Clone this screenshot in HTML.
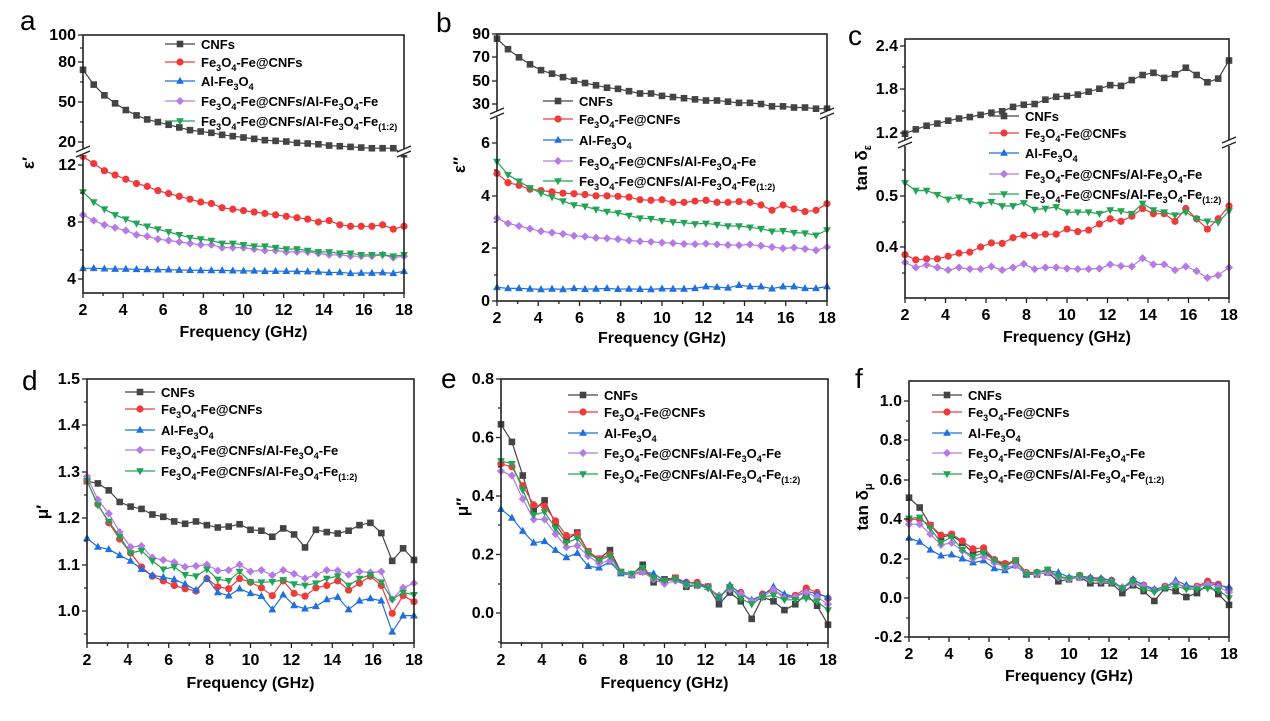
<!DOCTYPE html>
<html><head><meta charset="utf-8"><style>
html,body{margin:0;padding:0;background:#fff;}
svg{display:block;font-family:"Liberation Sans",Arial,sans-serif;}
</style></head><body>
<svg id="s" width="1270" height="721" viewBox="0 0 1270 721" xmlns="http://www.w3.org/2000/svg"></svg>
<script>
const S=document.getElementById('s');let out='';
const C={k:'#444',r:'#f03a3a',b:'#1e6fe0',p:'#b57ae6',g:'#22a455'};
const N=31;const X=i=>2+16*i/(N-1);
function mk(t,x,y,c){const s=3.3;
 if(t=='k')return `<rect x="${x-s}" y="${y-s}" width="${2*s}" height="${2*s}" fill="${c}"/>`;
 if(t=='r')return `<circle cx="${x}" cy="${y}" r="${s+0.3}" fill="${c}"/>`;
 if(t=='b')return `<polygon points="${x},${y-s-1} ${x-s-0.6},${y+s-0.5} ${x+s+0.6},${y+s-0.5}" fill="${c}"/>`;
 if(t=='p')return `<polygon points="${x},${y-s-0.8} ${x+s+0.8},${y} ${x},${y+s+0.8} ${x-s-0.8},${y}" fill="${c}"/>`;
 return `<polygon points="${x},${y+s+1} ${x-s-0.6},${y-s+0.5} ${x+s+0.6},${y-s+0.5}" fill="${c}"/>`;}
const LBL={k:'CNFs',r:'Fe<tspan font-size="9" dy="4">3</tspan><tspan dy="-4">O</tspan><tspan font-size="9" dy="4">4</tspan><tspan dy="-4">-Fe@CNFs</tspan>',
b:'Al-Fe<tspan font-size="9" dy="4">3</tspan><tspan dy="-4">O</tspan><tspan font-size="9" dy="4">4</tspan>',
p:'Fe<tspan font-size="9" dy="4">3</tspan><tspan dy="-4">O</tspan><tspan font-size="9" dy="4">4</tspan><tspan dy="-4">-Fe@CNFs/Al-Fe</tspan><tspan font-size="9" dy="4">3</tspan><tspan dy="-4">O</tspan><tspan font-size="9" dy="4">4</tspan><tspan dy="-4">-Fe</tspan>',
g:'Fe<tspan font-size="9" dy="4">3</tspan><tspan dy="-4">O</tspan><tspan font-size="9" dy="4">4</tspan><tspan dy="-4">-Fe@CNFs/Al-Fe</tspan><tspan font-size="9" dy="4">3</tspan><tspan dy="-4">O</tspan><tspan font-size="9" dy="4">4</tspan><tspan dy="-4">-Fe</tspan><tspan font-size="9" dy="4">(1:2)</tspan>'};
function panel(P){
 const {x0,x1,y0,y1}=P;const fx=f=>x0+(f-2)*(x1-x0)/16;
 let s='';
 for(const key of ['k','r','b','p','g']){const d=P.d[key];if(!d)continue;const m=(P.up&&key=='k')?P.up:P.lo;
  const pts=d.map((v,i)=>[fx(X(i)),m(v)]);
  s+=`<polyline points="${pts.map(p=>p[0].toFixed(1)+','+p[1].toFixed(1)).join(' ')}" fill="none" stroke="${C[key]}" stroke-width="1.2"/>`;
  pts.forEach(p=>s+=mk(key,p[0],p[1],C[key]));}
 s+=`<rect x="${x0}" y="${y0}" width="${x1-x0}" height="${y1-y0}" fill="none" stroke="#222" stroke-width="1.6"/>`;
 for(let f=2;f<=18;f+=1){const x=fx(f);const maj=f%2==0;s+=`<line x1="${x}" y1="${y1}" x2="${x}" y2="${y1+(maj?5:3)}" stroke="#222" stroke-width="1.3"/>`;
  if(maj)s+=`<text x="${x}" y="${y1+22}" font-size="16" font-weight="bold" text-anchor="middle">${f}</text>`;}
 P.yt.forEach(([v,y])=>{s+=`<line x1="${x0-5}" y1="${y}" x2="${x0}" y2="${y}" stroke="#222" stroke-width="1.3"/><text x="${x0-7}" y="${y+5}" font-size="16" font-weight="bold" text-anchor="end">${v}</text>`;});
 (P.ym||[]).forEach(y=>s+=`<line x1="${x0-3}" y1="${y}" x2="${x0}" y2="${y}" stroke="#222" stroke-width="1.2"/>`);
 if(P.br){const b=P.br;[x0,x1].forEach(x=>{s+=`<rect x="${x-6}" y="${b-3}" width="12" height="6" fill="#fff"/><line x1="${x-7}" y1="${b}" x2="${x+7}" y2="${b-6}" stroke="#222" stroke-width="1.4"/><line x1="${x-7}" y1="${b+5}" x2="${x+7}" y2="${b-1}" stroke="#222" stroke-width="1.4"/>`;});}
 s+=`<text x="${(x0+x1)/2}" y="${P.ft}" font-size="16" font-weight="bold" text-anchor="middle">Frequency (GHz)</text>`;
 s+=`<text x="${P.L[1]}" y="${P.L[2]}" font-size="28">${P.L[0]}</text>`;
 s+=`<text transform="translate(${P.yl[0]},${P.yl[1]}) rotate(-90)" font-size="17" font-weight="bold" text-anchor="middle">${P.yl[2]}</text>`;
 const [lx,lrows]=P.leg;['k','r','b','p','g'].forEach((k,i)=>{const y=lrows[i];s+=`<line x1="${lx}" y1="${y}" x2="${lx+30}" y2="${y}" stroke="${C[k]}" stroke-width="1.3"/>`+mk(k,lx+15,y,C[k])+`<text x="${lx+36}" y="${y+5}" font-size="13" font-weight="bold">${LBL[k]}</text>`;});
 out+=s;}
panel({x0:83,x1:404,y0:35,y1:293,up:v=>Math.max(35+(100-v)*1.34,35),lo:v=>165+(12-v)*14.25,br:152,
 yt:[[100,35],[80,62],[50,102],[20,142],[12,165],[8,222],[4,279]],ym:[48,82,122,193,250],ft:337,L:['a',20,30],yl:[34,163,'ε′'],
 leg:[165,[44,62,81,101,121]],
 d:{k:[74,63,55,49,44,40,37,35,33,31,29,28,27,25.5,24.5,23.5,22.5,21.5,21,20.5,19.5,19,18.5,17.5,17,16.5,16,15.5,15.5,15.5,11],
 r:[12.6,12.1,11.6,11.3,11.0,10.7,10.5,10.2,10.0,9.8,9.6,9.4,9.3,9.0,8.9,8.8,8.7,8.6,8.5,8.4,8.3,8.2,8.0,8.1,7.8,7.7,7.7,7.7,7.8,7.5,7.7],
 b:[4.75,4.75,4.72,4.7,4.7,4.68,4.67,4.65,4.65,4.63,4.62,4.6,4.6,4.6,4.58,4.57,4.57,4.55,4.55,4.55,4.53,4.52,4.5,4.45,4.47,4.4,4.42,4.42,4.45,4.4,4.55],
 p:[8.5,8.1,7.8,7.6,7.4,7.1,7.0,6.8,6.7,6.6,6.5,6.4,6.4,6.2,6.2,6.2,6.1,6.0,6.0,5.9,5.9,5.9,5.8,5.7,5.7,5.6,5.6,5.6,5.7,5.5,5.6],
 g:[10.1,9.4,8.9,8.5,8.2,7.9,7.7,7.5,7.3,7.1,6.9,6.8,6.7,6.5,6.5,6.4,6.3,6.3,6.2,6.1,6.1,6.0,5.9,5.9,5.8,5.8,5.7,5.7,5.7,5.6,5.7]}});
panel({x0:497,x1:827,y0:34,y1:301,up:v=>34+(90-v)*1.167,lo:v=>301-v*26.3,br:114,
 yt:[[90,34],[70,57],[50,81],[30,104],[6,143],[4,196],[2,248],[0,301]],ym:[170,222,275],ft:343,L:['b',436,32],yl:[465,165,'ε″'],
 leg:[543,[101,119,140,161,181]],
 d:{k:[86,77,70,64,59,56,53,50,48,46,44,43,41,39,39,37,36,35,34,33,33,32,31,31,30,28,28,27,27,26,26],
 r:[4.85,4.5,4.4,4.25,4.2,4.15,4.1,4.08,4.05,4.0,4.0,3.98,3.95,3.85,3.83,3.85,3.75,3.75,3.8,3.83,3.75,3.75,3.78,3.75,3.65,3.45,3.65,3.5,3.4,3.45,3.7],
 b:[0.52,0.48,0.48,0.46,0.44,0.46,0.44,0.48,0.45,0.46,0.48,0.45,0.46,0.45,0.44,0.47,0.46,0.46,0.48,0.55,0.53,0.5,0.6,0.55,0.55,0.47,0.55,0.55,0.48,0.48,0.55],
 p:[3.15,2.95,2.85,2.75,2.65,2.6,2.55,2.48,2.45,2.4,2.38,2.35,2.3,2.27,2.25,2.22,2.2,2.17,2.16,2.18,2.15,2.13,2.12,2.15,2.1,2.05,2.0,2.03,1.98,1.93,2.05],
 g:[5.3,4.8,4.55,4.3,4.1,3.95,3.8,3.65,3.6,3.48,3.4,3.35,3.25,3.15,3.13,3.05,3.0,2.98,2.93,2.95,2.9,2.85,2.85,2.8,2.75,2.65,2.67,2.6,2.58,2.5,2.7]}});
panel({x0:905,x1:1229,y0:39,y1:298,up:v=>46+(2.4-v)*72.5,lo:v=>247-(v-0.4)*513,br:143,
 yt:[['2.4',46],['1.8',89],['1.2',133],['0.5',196],['0.4',247]],ym:[67,111,170,222,273],ft:342,L:['c',848,45],yl:[867,168,'tan δ<tspan font-size="11" dy="4">ε</tspan>'],
 leg:[989,[116,133,153,174,194]],
 d:{k:[1.19,1.25,1.3,1.33,1.37,1.4,1.42,1.45,1.48,1.5,1.56,1.59,1.6,1.66,1.7,1.71,1.73,1.77,1.81,1.86,1.85,1.93,2.0,2.03,1.96,2.01,2.1,2.0,1.9,1.95,2.2],
 r:[.385,.375,.377,.377,.382,.388,.39,.4,.408,.407,.418,.423,.422,.425,.425,.435,.43,.433,.445,.455,.45,.46,.475,.465,.465,.45,.475,.455,.435,.455,.48],
 p:[.37,.36,.365,.36,.355,.36,.357,.357,.362,.355,.36,.367,.357,.36,.36,.358,.357,.357,.358,.366,.363,.362,.378,.366,.366,.355,.362,.353,.34,.345,.36],
 g:[.525,.51,.51,.502,.493,.497,.49,.483,.488,.48,.48,.486,.473,.475,.478,.468,.468,.468,.465,.472,.47,.465,.485,.472,.468,.462,.468,.455,.45,.448,.47]}});
panel({x0:87,x1:414,y0:379,y1:643,lo:v=>611-(v-1.0)*464,
 yt:[['1.5',379],['1.4',425],['1.3',472],['1.2',518],['1.1',565],['1.0',611]],ym:[402,448,495,541,588,634],ft:688,L:['d',22,390],yl:[48,512,'μ′'],
 leg:[125,[392,409,430,450,471]],
 d:{k:[1.28,1.275,1.26,1.235,1.225,1.22,1.208,1.203,1.193,1.188,1.193,1.185,1.18,1.182,1.187,1.175,1.173,1.16,1.178,1.165,1.137,1.175,1.17,1.167,1.173,1.185,1.19,1.168,1.108,1.135,1.11],
 r:[1.28,1.23,1.19,1.155,1.125,1.095,1.075,1.065,1.055,1.048,1.043,1.07,1.052,1.048,1.07,1.062,1.05,1.033,1.065,1.038,1.032,1.05,1.055,1.065,1.045,1.06,1.075,1.055,0.995,1.033,1.02],
 b:[1.157,1.138,1.133,1.12,1.108,1.09,1.077,1.073,1.068,1.058,1.045,1.07,1.04,1.033,1.048,1.038,1.032,1.003,1.035,1.012,1.005,1.01,1.025,1.03,1.003,1.022,1.027,1.022,0.955,0.99,0.99],
 p:[1.29,1.24,1.21,1.17,1.138,1.14,1.115,1.11,1.105,1.095,1.097,1.1,1.087,1.088,1.1,1.085,1.088,1.077,1.088,1.08,1.07,1.078,1.088,1.087,1.078,1.085,1.083,1.085,1.025,1.05,1.06],
 g:[1.28,1.228,1.193,1.16,1.125,1.13,1.108,1.09,1.095,1.078,1.075,1.09,1.068,1.065,1.085,1.062,1.062,1.063,1.067,1.058,1.055,1.06,1.07,1.075,1.055,1.07,1.078,1.062,1.025,1.04,1.035]}});
panel({x0:501,x1:828,y0:379,y1:643,lo:v=>613-v*292.5,
 yt:[['0.8',379],['0.6',437.5],['0.4',496],['0.2',554.5],['0.0',613]],ym:[408,467,525,584,642],ft:688,L:['e',441,388],yl:[468,507,'μ″'],
 leg:[568,[395,412,433,453,474]],
 d:{k:[.645,.585,.47,.35,.385,.305,.25,.275,.21,.185,.215,.14,.13,.165,.105,.115,.12,.09,.095,.09,.03,.07,.04,-.02,.055,.04,.01,.03,.065,.025,-.04],
 r:[.51,.5,.435,.37,.365,.315,.265,.27,.21,.185,.2,.14,.13,.145,.12,.11,.12,.105,.105,.09,.055,.09,.07,.04,.065,.08,.055,.06,.085,.07,.05],
 b:[.355,.325,.28,.24,.245,.215,.19,.205,.16,.155,.175,.135,.13,.14,.135,.11,.115,.105,.1,.09,.05,.095,.065,.045,.06,.09,.065,.055,.075,.065,.055],
 p:[.485,.47,.39,.32,.32,.27,.225,.23,.195,.17,.18,.14,.13,.14,.115,.1,.11,.095,.095,.085,.06,.08,.065,.04,.055,.08,.05,.055,.07,.055,.03],
 g:[.52,.51,.42,.335,.345,.29,.24,.255,.205,.18,.195,.14,.135,.155,.12,.11,.115,.095,.095,.085,.055,.09,.05,.03,.055,.06,.045,.045,.05,.04,.01]}});
panel({x0:909,x1:1229,y0:381,y1:637,lo:v=>598-v*196.7,
 yt:[['1.0',401],['0.8',440],['0.6',480],['0.4',519],['0.2',559],['0.0',598],['-0.2',637]],ym:[421,460,500,539,578,618],ft:681,L:['f',855,388],yl:[868,507,'tan δ<tspan font-size="11" dy="4">μ</tspan>'],
 leg:[932,[395,412,433,453,474]],
 d:{k:[.51,.46,.37,.31,.32,.28,.23,.24,.19,.17,.19,.12,.12,.13,.085,.095,.105,.075,.075,.075,.025,.065,.035,-.015,.05,.035,.005,.025,.07,.02,-.035],
 r:[.4,.4,.37,.32,.325,.29,.25,.255,.195,.175,.19,.13,.13,.14,.11,.1,.115,.1,.095,.09,.05,.09,.065,.04,.06,.075,.055,.06,.085,.07,.045],
 b:[.305,.285,.245,.215,.22,.2,.18,.19,.15,.14,.165,.12,.13,.14,.13,.105,.11,.105,.1,.09,.05,.095,.065,.045,.055,.09,.065,.055,.075,.065,.055],
 p:[.375,.375,.325,.27,.28,.24,.2,.21,.18,.155,.165,.125,.12,.13,.105,.095,.105,.09,.085,.08,.055,.075,.06,.035,.055,.075,.05,.055,.07,.055,.03],
 g:[.405,.41,.355,.28,.31,.245,.21,.23,.19,.16,.19,.12,.13,.145,.11,.1,.115,.09,.09,.08,.05,.085,.045,.03,.05,.06,.045,.045,.05,.04,0]}});
S.innerHTML=out;
</script>
</body></html>
